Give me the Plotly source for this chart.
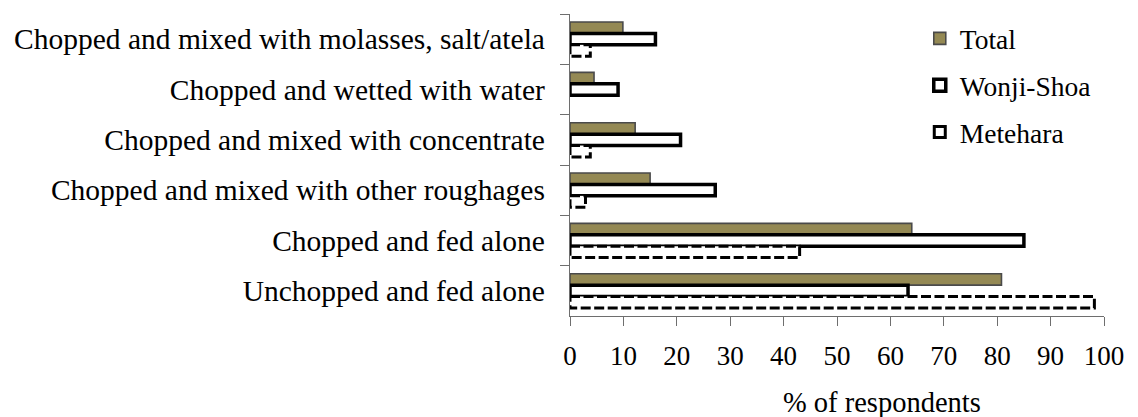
import plotly.graph_objects as go

categories = [
    "Chopped and mixed with molasses, salt/atela",
    "Chopped and wetted with water",
    "Chopped and mixed with concentrate",
    "Chopped and mixed with other roughages",
    "Chopped and fed alone",
    "Unchopped and fed alone",
]
total = [9.9, 4.5, 12.2, 15.0, 64.0, 80.8]
wonji_shoa = [16.0, 9.0, 20.7, 27.2, 85.0, 63.3]
metehara = [3.8, 0.0, 3.8, 2.9, 43.0, 98.2]
x_ticks = list(range(0, 101, 10))
x_title = "% of respondents"

FONT = "Liberation Serif"
AXIS_COLOR = "#6e6e6e"
BARGAP = 0.32
bw = (1 - BARGAP) / 3

fig = go.Figure()
fig.add_trace(go.Bar(
    y=categories, x=total, orientation="h", name="Total",
    marker=dict(color="#948954", line=dict(color="#4a4a4a", width=1.6)),
    legendgroup="a",
))
fig.add_trace(go.Bar(
    y=categories, x=wonji_shoa, orientation="h", name="Wonji-Shoa",
    marker=dict(color="white", line=dict(color="black", width=3.5)),
    legendgroup="b",
))
fig.add_trace(go.Bar(
    y=categories, x=metehara, orientation="h", name="Metehara",
    marker=dict(color="white", line=dict(color="white", width=0)),
    showlegend=False, legendgroup="c",
))
fig.add_trace(go.Scatter(
    x=[None], y=[None], mode="markers", name="Metehara",
    marker=dict(symbol="square-open", size=11, color="black", line=dict(width=3)),
    legendgroup="c",
))

# dashed outlines for the Metehara bars, placed from the data on the axes
shapes = []
for i, v in enumerate(metehara):
    if v > 0:
        shapes.append(dict(
            type="rect", xref="x", yref="y",
            x0=0, x1=v, y0=i + bw / 2, y1=i + 3 * bw / 2,
            line=dict(color="black", width=3, dash="10px,3.5px"),
            fillcolor="rgba(0,0,0,0)", layer="above",
        ))

fig.update_layout(
    width=1130, height=409,
    margin=dict(l=562, r=34, t=6, b=101, autoexpand=False),
    paper_bgcolor="white", plot_bgcolor="white",
    barmode="group", bargap=BARGAP, bargroupgap=0,
    font=dict(family=FONT, color="black"),
    shapes=shapes,
    legend=dict(
        x=0.655, y=1.0, xanchor="left", yanchor="top",
        font=dict(size=27.5, family=FONT),
        traceorder="grouped", tracegroupgap=8,
        bgcolor="rgba(0,0,0,0)", itemwidth=30,
    ),
    annotations=[dict(
        text=x_title, xref="paper", yref="paper",
        x=0.584, y=0, xanchor="center", yanchor="middle", yshift=-86,
        showarrow=False, font=dict(size=28.5, family=FONT, color="black"),
    )],
    xaxis=dict(
        range=[0, 100], tickvals=x_ticks, ticktext=[str(t) for t in x_ticks],
        showgrid=False, zeroline=False,
        showline=True, linecolor=AXIS_COLOR, linewidth=1.3,
        ticks="outside", ticklen=9, tickcolor=AXIS_COLOR, tickwidth=1.3,
        tickfont=dict(size=27, family=FONT), ticklabelstandoff=6,
        automargin=False,
    ),
    yaxis=dict(
        type="category", autorange="reversed",
        showgrid=False, zeroline=False,
        showline=True, linecolor=AXIS_COLOR, linewidth=1.3,
        ticks="outside", tickson="boundaries", ticklen=9, tickcolor=AXIS_COLOR, tickwidth=1.3,
        tickfont=dict(size=29.5, family=FONT), ticklabelstandoff=18,
        automargin=False,
    ),
)

fig.write_html("out.html")
